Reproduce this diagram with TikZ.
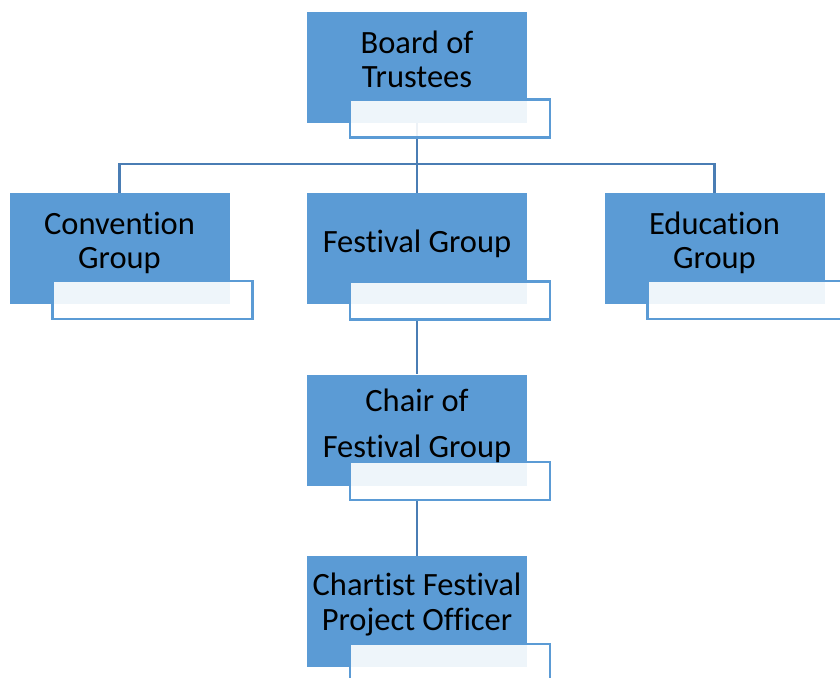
\documentclass[tikz,border=0pt]{standalone}
\usepackage{fontspec}
\setmainfont[Ligatures=NoCommon]{Carlito}
\definecolor{boxblue}{HTML}{5B9BD5}
\definecolor{linkblue}{HTML}{4A7DB4}
\begin{document}
\begin{tikzpicture}[x=1pt,y=-1pt,
  bluebox/.style={fill=boxblue,draw=none,minimum width=220,minimum height=111,inner sep=0},
  labbox/.style={draw=boxblue,line width=2.2,fill=white,fill opacity=0.9,minimum width=200,minimum height=38,inner sep=0},
  txt/.style={anchor=base,inner sep=0,font=\fontsize{32.5}{34}\selectfont},
  link/.style={draw=linkblue,line width=2.4}]
\useasboundingbox (0,0) rectangle (840,677);
% boxes
\node[bluebox] (b) at (417,67.5) {};
\node[bluebox] (c) at (119.5,248.5) {};
\node[bluebox] (f) at (417,248.5) {};
\node[bluebox] (e) at (714.5,248.5) {};
\node[bluebox] (ch) at (417,430) {};
\node[bluebox] (p) at (417,611.5) {};
% connectors (under label boxes)
\coordinate (bar) at (417,164);
\draw[link] (b.south) -- (f.north);
\draw[link] (c.north) -- (c.north |- bar) -- (e.north |- bar) -- (e.north);
\draw[link] (f.south) ++(0,16) -- (ch.north);
\draw[link] (ch.south) ++(0,14) -- (p.north);
% label boxes
\node[labbox] (bl) at (450,118.5) {};
\node[labbox] (cl) at (152.5,300) {};
\node[labbox] (fl) at (450,300.5) {};
\node[labbox] (el) at (747.5,300) {};
\node[labbox] (chl) at (450,481) {};
\node[labbox] (pl) at (450,663) {};
% texts
\node[txt] (tb1) at (417,53) {Board of};
\node[txt] (tb2) at (417,88) {Trustees};
\node[txt] (tc1) at (119.5,234) {Convention};
\node[txt] (tc2) at (119.5,268.5) {Group};
\node[txt] (tf) at (417,252) {Festival Group};
\node[txt] (te1) at (714.5,234) {Education};
\node[txt] (te2) at (714.5,268.5) {Group};
\node[txt] (tch1) at (417,411) {Chair of};
\node[txt] (tch2) at (417,457) {Festival Group};
\node[txt] (tp1) at (417,595) {Chartist Festival};
\node[txt] (tp2) at (417,630) {Project Officer};
\end{tikzpicture}
\end{document}
